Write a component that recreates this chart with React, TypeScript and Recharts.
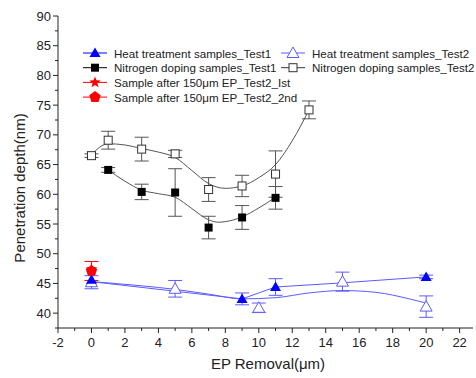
import React from 'react'
import { ComposedChart, Scatter, XAxis, YAxis, ErrorBar } from 'recharts'

// measured points (x = EP removal in µm, y = penetration depth in nm, err = half error bar)
const heatTest1 = [
  { x: 0, y: 45.6, err: 0 },
  { x: 9, y: 42.4, err: 1 },
  { x: 11, y: 44.4, err: 1.4 },
  { x: 20, y: 46.1, err: 0.3 },
]
const heatTest2 = [
  { x: 0, y: 45.2, err: 1.1 },
  { x: 5, y: 44.1, err: 1.4 },
  { x: 10, y: 40.9, err: 0.8 },
  { x: 15, y: 45.3, err: 1.6 },
  { x: 20, y: 41.1, err: 1.8 },
]
const nitroTest1 = [
  { x: 1, y: 64.1, err: 0.4 },
  { x: 3, y: 60.4, err: 1.3 },
  { x: 5, y: 60.3, err: 4 },
  { x: 7, y: 54.4, err: 1.9 },
  { x: 9, y: 56.1, err: 2 },
  { x: 11, y: 59.4, err: 1.9 },
]
const nitroTest2 = [
  { x: 0, y: 66.5, err: 0.3 },
  { x: 1, y: 69.1, err: 1.5 },
  { x: 3, y: 67.6, err: 2 },
  { x: 5, y: 66.8, err: 0.6 },
  { x: 7, y: 60.8, err: 2 },
  { x: 9, y: 61.4, err: 1.8 },
  { x: 11, y: 63.4, err: 3.9 },
  { x: 13, y: 74.2, err: 1.5 },
]
const epFirst = [{ x: 0, y: 47.4, err: 0 }]
const epSecond = [{ x: 0, y: 47.1, err: 1.6 }]

// fitted curves
const heatLine1 = [
  { x: 0, y: 45.3 },
  { x: 9, y: 42.4 },
  { x: 11, y: 44.4 },
  { x: 15, y: 45.1 },
  { x: 20, y: 46.1 },
]
const heatFit2 = [
  { x: 0, y: 45.3 },
  { x: 3, y: 44.6 },
  { x: 5, y: 44 },
  { x: 7, y: 43.2 },
  { x: 9, y: 42.4 },
  { x: 11, y: 42.6 },
  { x: 13, y: 43.4 },
  { x: 15, y: 43.8 },
  { x: 17, y: 43.5 },
  { x: 19, y: 42.4 },
  { x: 20, y: 41.7 },
]
const nitroFit1 = [
  { x: 1, y: 64.1 },
  { x: 2, y: 62.2 },
  { x: 3, y: 60.7 },
  { x: 4, y: 60.1 },
  { x: 5, y: 59.5 },
  { x: 6, y: 57.6 },
  { x: 7, y: 55.7 },
  { x: 7.6, y: 55.3 },
  { x: 8, y: 55.4 },
  { x: 9, y: 56.2 },
  { x: 10, y: 57.7 },
  { x: 11, y: 59.5 },
]
const nitroFit2 = [
  { x: 0, y: 66.7 },
  { x: 1, y: 68.5 },
  { x: 2, y: 68.3 },
  { x: 3, y: 67.7 },
  { x: 4, y: 67.1 },
  { x: 5, y: 66.2 },
  { x: 6, y: 64 },
  { x: 7, y: 61.8 },
  { x: 8, y: 61 },
  { x: 9, y: 61.4 },
  { x: 10, y: 62.8 },
  { x: 11, y: 65 },
  { x: 12, y: 69 },
  { x: 13, y: 74.2 },
]

const xTicks = [-2, -1, 0, 1, 2, 3, 4, 5, 6, 7, 8, 9, 10, 11, 12, 13, 14, 15, 16, 17, 18, 19, 20, 21, 22]
const yTicks = [37.5, 40, 42.5, 45, 47.5, 50, 52.5, 55, 57.5, 60, 62.5, 65, 67.5, 70, 72.5, 75, 77.5, 80, 82.5, 85, 87.5, 90]

const BLUE = '#0000ff'
const LIGHT_BLUE = '#5b5bff'
const RED = '#ff0000'
const AXIS = '#222'
const FONT = '"Liberation Sans", Arial, sans-serif'

const Nothing = () => <g />

const FilledTriangle = ({ cx, cy }: any) => (
  <polygon points={`${cx},${cy - 5.5} ${cx - 5.5},${cy + 4} ${cx + 5.5},${cy + 4}`} fill={BLUE} />
)
const OpenTriangle = ({ cx, cy }: any) => (
  <polygon
    points={`${cx},${cy - 6} ${cx - 6},${cy + 4.5} ${cx + 6},${cy + 4.5}`}
    fill="#fff"
    stroke={LIGHT_BLUE}
    strokeWidth={1}
  />
)
const FilledSquare = ({ cx, cy }: any) => <rect x={cx - 4} y={cy - 4} width={8} height={8} fill="#000" />
const OpenSquare = ({ cx, cy }: any) => (
  <rect x={cx - 4} y={cy - 4} width={8} height={8} fill="#fff" stroke="#333" strokeWidth={1} />
)
const starPoints = (cx: number, cy: number, r: number) => {
  const pts: string[] = []
  for (let i = 0; i < 10; i++) {
    const rad = i % 2 === 0 ? r : r * 0.42
    const a = -Math.PI / 2 + (i * Math.PI) / 5
    pts.push(`${cx + rad * Math.cos(a)},${cy + rad * Math.sin(a)}`)
  }
  return pts.join(' ')
}
const pentPoints = (cx: number, cy: number, r: number) => {
  const pts: string[] = []
  for (let i = 0; i < 5; i++) {
    const a = -Math.PI / 2 + (i * 2 * Math.PI) / 5
    pts.push(`${cx + r * Math.cos(a)},${cy + r * Math.sin(a)}`)
  }
  return pts.join(' ')
}
const Star = ({ cx, cy }: any) => <polygon points={starPoints(cx, cy, 6)} fill={RED} />
const Pentagon = ({ cx, cy }: any) => <polygon points={pentPoints(cx, cy, 6)} fill={RED} />

// Origin-style ticks: major ticks labelled, minor ones short
const BottomTick = ({ x, y, payload }: any) => {
  const major = payload.value % 2 === 0
  return (
    <g>
      <line x1={x} x2={x} y1={y} y2={y + (major ? 5 : 3)} stroke={AXIS} />
      {major && (
        <text x={x} y={y + 19} textAnchor="middle" fontSize={13} fontFamily={FONT} fill={AXIS}>
          {payload.value}
        </text>
      )}
    </g>
  )
}
const TopTick = ({ x, y, payload }: any) => {
  const major = payload.value % 2 === 0
  return <line x1={x} x2={x} y1={y} y2={y + (major ? 5 : 3)} stroke={AXIS} />
}
const LeftTick = ({ x, y, payload }: any) => {
  const major = payload.value % 5 === 0
  return (
    <g>
      <line x1={x} x2={x - (major ? 5 : 3)} y1={y} y2={y} stroke={AXIS} />
      {major && (
        <text x={x - 7} y={y + 4.5} textAnchor="end" fontSize={13} fontFamily={FONT} fill={AXIS}>
          {payload.value}
        </text>
      )}
    </g>
  )
}
const RightTick = ({ x, y, payload }: any) => {
  const major = payload.value % 5 === 0
  return <line x1={x} x2={x - (major ? 5 : 3)} y1={y} y2={y} stroke={AXIS} />
}

const legendRows = [
  [
    { name: 'Heat treatment samples_Test1', shape: FilledTriangle, line: BLUE },
    { name: 'Heat treatment samples_Test2', shape: OpenTriangle, line: LIGHT_BLUE },
  ],
  [
    { name: 'Nitrogen doping samples_Test1', shape: FilledSquare, line: '#000' },
    { name: 'Nitrogen doping samples_Test2', shape: OpenSquare, line: '#333' },
  ],
  [{ name: 'Sample after 150μm EP_Test2_Ist', shape: Star, line: RED }],
  [{ name: 'Sample after 150μm EP_Test2_2nd', shape: Pentagon, line: RED }],
]

function Overlay() {
  return (
    <svg width={476} height={378} style={{ position: 'absolute', left: 0, top: 0, pointerEvents: 'none' }}>
      {legendRows.map((row, r) =>
        row.map((item, c) => {
          const sx = c === 0 ? 95 : 293
          const cy = 53 + r * 14.7
          const Shape = item.shape
          return (
            <g key={`${r}-${c}`}>
              <line x1={sx - 12} x2={sx + 12} y1={cy} y2={cy} stroke={item.line} strokeWidth={1} />
              <Shape cx={sx} cy={cy} />
              <text x={sx + 19} y={cy + 4.5} fontSize={11.6} fontFamily={FONT} fill={AXIS}>
                {item.name}
              </text>
            </g>
          )
        }),
      )}
      <text x={268} y={369} textAnchor="middle" fontSize={15} fontFamily={FONT} fill={AXIS}>
        EP Removal(μm)
      </text>
      <text
        x={0}
        y={0}
        transform="translate(25,188) rotate(-90)"
        textAnchor="middle"
        fontSize={15}
        fontFamily={FONT}
        fill={AXIS}
      >
        Penetration depth(nm)
      </text>
    </svg>
  )
}

const fitLine = (stroke: string) => ({ stroke, strokeWidth: 1 })

export default function App() {
  return (
    <div style={{ position: 'absolute', left: 0, top: 0, width: 476, height: 378, background: '#fff' }}>
      <ComposedChart width={476} height={378} margin={{ top: 16, right: 3, bottom: 0, left: 0 }}>
        <XAxis
          xAxisId="main"
          dataKey="x"
          type="number"
          domain={[-2, 22.8]}
          ticks={xTicks}
          interval={0}
          allowDataOverflow
          height={50}
          tickSize={0}
          tickMargin={0}
          tickLine={false}
          stroke={AXIS}
          tick={<BottomTick />}
        />
        <XAxis
          xAxisId="top"
          orientation="top"
          type="number"
          domain={[-2, 22.8]}
          ticks={xTicks}
          interval={0}
          height={0}
          tickSize={0}
          tickMargin={0}
          tickLine={false}
          stroke={AXIS}
          tick={<TopTick />}
          allowDataOverflow
        />
        <YAxis
          yAxisId="main"
          dataKey="y"
          type="number"
          domain={[37.5, 90]}
          ticks={yTicks}
          interval={0}
          allowDataOverflow
          width={58}
          tickSize={0}
          tickMargin={0}
          tickLine={false}
          stroke={AXIS}
          tick={<LeftTick />}
        />
        <YAxis
          yAxisId="right"
          orientation="right"
          type="number"
          domain={[37.5, 90]}
          ticks={yTicks}
          interval={0}
          width={0}
          tickSize={0}
          tickMargin={0}
          tickLine={false}
          stroke={AXIS}
          tick={<RightTick />}
          allowDataOverflow
        />

        {/* fitted curves */}
        <Scatter xAxisId="main" yAxisId="main" data={nitroFit2} line={fitLine('#555')} lineJointType="monotoneX" shape={Nothing} isAnimationActive={false} />
        <Scatter xAxisId="main" yAxisId="main" data={nitroFit1} line={fitLine('#555')} lineJointType="monotoneX" shape={Nothing} isAnimationActive={false} />
        <Scatter xAxisId="main" yAxisId="main" data={heatFit2} line={fitLine(LIGHT_BLUE)} lineJointType="monotoneX" shape={Nothing} isAnimationActive={false} />
        <Scatter xAxisId="main" yAxisId="main" data={heatLine1} line={fitLine(LIGHT_BLUE)} lineJointType="linear" shape={Nothing} isAnimationActive={false} />

        {/* measured points */}
        <Scatter xAxisId="main" yAxisId="main" data={nitroTest2} shape={OpenSquare} isAnimationActive={false}>
          <ErrorBar dataKey="err" direction="y" width={7} stroke="#555" strokeWidth={1} />
        </Scatter>
        <Scatter xAxisId="main" yAxisId="main" data={nitroTest1} shape={FilledSquare} isAnimationActive={false}>
          <ErrorBar dataKey="err" direction="y" width={7} stroke="#555" strokeWidth={1} />
        </Scatter>
        <Scatter xAxisId="main" yAxisId="main" data={heatTest2} shape={OpenTriangle} isAnimationActive={false}>
          <ErrorBar dataKey="err" direction="y" width={7} stroke={LIGHT_BLUE} strokeWidth={1} />
        </Scatter>
        <Scatter xAxisId="main" yAxisId="main" data={heatTest1} shape={FilledTriangle} isAnimationActive={false}>
          <ErrorBar dataKey="err" direction="y" width={7} stroke={LIGHT_BLUE} strokeWidth={1} />
        </Scatter>
        <Scatter xAxisId="main" yAxisId="main" data={epFirst} shape={Star} isAnimationActive={false} />
        <Scatter xAxisId="main" yAxisId="main" data={epSecond} shape={Pentagon} isAnimationActive={false}>
          <ErrorBar dataKey="err" direction="y" width={7} stroke={RED} strokeWidth={1} />
        </Scatter>
      </ComposedChart>
      <Overlay />
    </div>
  )
}
